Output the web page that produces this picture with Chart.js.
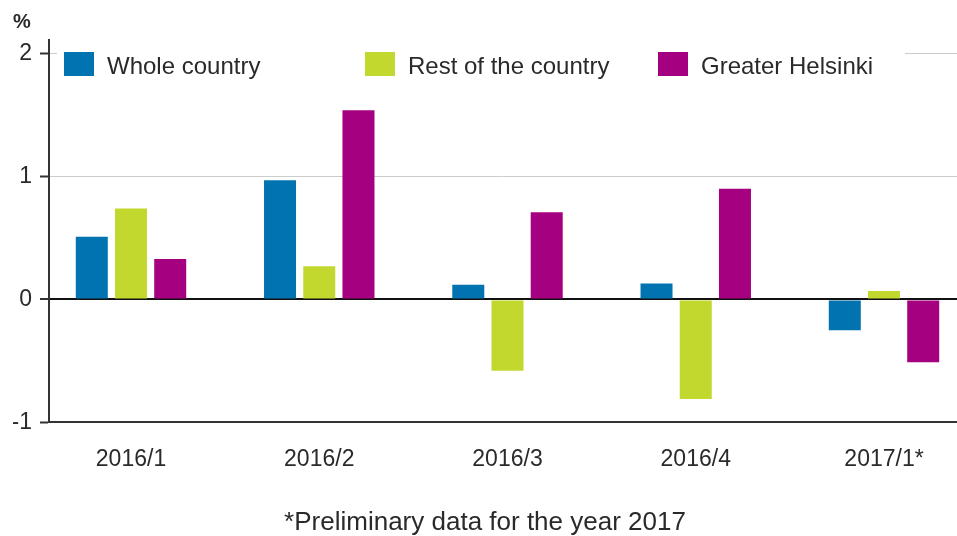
<!DOCTYPE html>
<html>
<head>
<meta charset="utf-8">
<script src="https://cdn.jsdelivr.net/npm/chart.js@4.4.0/dist/chart.umd.min.js"></script>
<style>
  html, body { margin: 0; padding: 0; background: #fff; }
  #wrap { width: 957px; height: 536px; position: relative; }
</style>
</head>
<body>
<div id="wrap"><canvas id="chart"></canvas></div>
<script>
const categories = ['2016/1', '2016/2', '2016/3', '2016/4', '2017/1*'];
const wholeCountry = [0.51, 0.97, 0.12, 0.13, -0.25];
const restOfCountry = [0.74, 0.27, -0.58, -0.81, 0.07];
const greaterHelsinki = [0.33, 1.54, 0.71, 0.90, -0.51];
const yTicks = [-1, 0, 1, 2];

const FONT = '"Liberation Sans", Arial, sans-serif';
const TEXT = '#2a2a2a';

// legend sits inside the plot, on top of the 2-line
const insideLegend = {
    id: 'insideLegend',
    afterDraw(chart, args, opts) {
        const { ctx, chartArea } = chart;
        ctx.save();
        ctx.fillStyle = '#fff';
        ctx.fillRect(chartArea.left + 8, chartArea.top + 4, 848, 38);
        ctx.font = '24px ' + FONT;
        ctx.textBaseline = 'alphabetic';
        chart.data.datasets.forEach((ds, i) => {
            const x = chartArea.left + opts.offsets[i];
            const y = chartArea.top + 12;
            ctx.fillStyle = ds.backgroundColor;
            ctx.fillRect(x, y, 30, 24);
            ctx.fillStyle = TEXT;
            ctx.fillText(ds.label, x + 43, y + 22);
        });
        ctx.restore();
    }
};

const toPoints = (arr) => arr.map((v, i) => ({ x: i, y: v }));

const ctx = document.getElementById('chart').getContext('2d');
const chart = new Chart(ctx, {
    type: 'bar',
    data: {
        datasets: [
            { label: 'Whole country', data: toPoints(wholeCountry), backgroundColor: '#0073b0' },
            { label: 'Rest of the country', data: toPoints(restOfCountry), backgroundColor: '#c2d82e' },
            { label: 'Greater Helsinki', data: toPoints(greaterHelsinki), backgroundColor: '#a5007f' }
        ]
    },
    options: {
        responsive: true,
        maintainAspectRatio: false,
        animation: false,
        events: [],
        layout: { padding: { left: 13, right: 0, top: 0, bottom: 0 } },
        datasets: {
            bar: { categoryPercentage: 0.625, barPercentage: 0.816, borderWidth: 0 }
        },
        plugins: {
            legend: { display: false },
            tooltip: { enabled: false },
            title: {
                display: true,
                text: '%',
                align: 'start',
                color: TEXT,
                font: { family: FONT, size: 20, weight: 'bold', lineHeight: 1.2 },
                padding: { top: 10, bottom: 6 }
            },
            subtitle: {
                display: true,
                position: 'bottom',
                text: '*Preliminary data for the year 2017',
                color: TEXT,
                font: { family: FONT, size: 26, lineHeight: 1.0 },
                padding: { top: 14, bottom: 0 }
            },
            insideLegend: { offsets: [15, 316, 609] }
        },
        scales: {
            x: {
                type: 'linear',
                min: -0.4356,
                max: 4.3878,
                offset: false,
                afterBuildTicks: (axis) => {
                    axis.ticks = categories.map((c, i) => ({ value: i }));
                },
                ticks: {
                    autoSkip: false,
                    maxRotation: 0,
                    padding: 23,
                    color: TEXT,
                    font: { family: FONT, size: 23 },
                    callback: (v) => categories[v]
                },
                grid: { display: false, drawTicks: false },
                border: { display: true, color: '#333', width: 2 }
            },
            y: {
                min: -1,
                max: 2.111,
                afterBuildTicks: (axis) => {
                    axis.ticks = yTicks.map(v => ({ value: v }));
                },
                afterFit: (scale) => { scale.width = 36; },
                ticks: {
                    padding: 8,
                    color: TEXT,
                    font: { family: FONT, size: 23 }
                },
                grid: {
                    color: (c) => c.tick.value === 0 ? '#111' : (c.tick.value === -1 ? 'rgba(0,0,0,0)' : '#cccccc'),
                    lineWidth: (c) => c.tick.value === 0 ? 2 : 1,
                    tickColor: '#333',
                    tickWidth: 2,
                    tickLength: 9
                },
                border: { display: true, color: '#333', width: 2 }
            }
        }
    },
    plugins: [insideLegend]
});
</script>
</body>
</html>
